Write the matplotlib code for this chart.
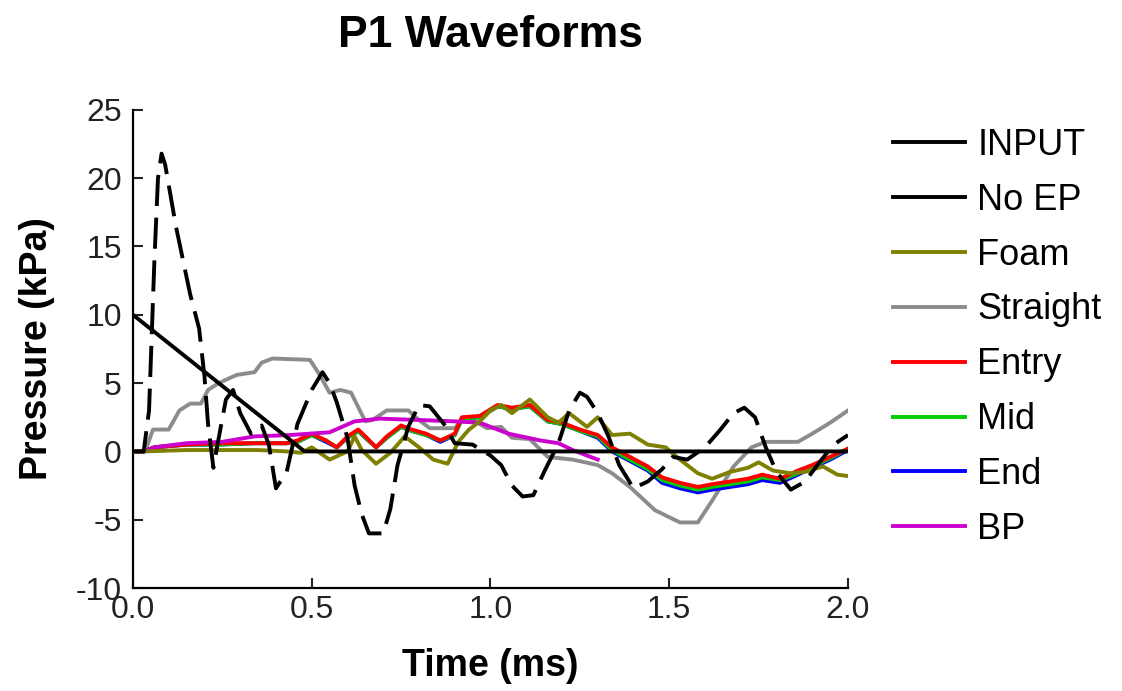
import matplotlib
matplotlib.use("Agg")
import matplotlib.pyplot as plt
from matplotlib.lines import Line2D

plt.rcParams['font.family'] = ['Liberation Sans', 'DejaVu Sans']
plt.rcParams['axes.unicode_minus'] = False

# INPUT: triangular pulse
t_input = [0.0, 0.48, 2.0]
p_input = [10.0, 0.0, 0.0]

# No EP (dashed black)
t_noep = [0.0, 0.03, 0.045, 0.06, 0.07, 0.08, 0.09, 0.10, 0.12, 0.14, 0.16, 0.185, 0.20, 0.21,
          0.225, 0.24, 0.26, 0.28, 0.30, 0.33, 0.36, 0.38, 0.40, 0.43, 0.46, 0.50, 0.53, 0.55,
          0.57, 0.60, 0.62, 0.64, 0.66, 0.70, 0.72, 0.74, 0.77, 0.80, 0.83, 0.87, 0.90, 0.95,
          1.00, 1.03, 1.06, 1.09, 1.12, 1.15, 1.19, 1.22, 1.25, 1.27, 1.30, 1.33, 1.36, 1.40,
          1.44, 1.48, 1.51, 1.55, 1.60, 1.64, 1.68, 1.71, 1.74, 1.77, 1.80, 1.84, 1.88, 1.92,
          1.96, 2.00]
p_noep = [0.0, 0.0, 3.0, 14.0, 20.0, 21.8, 21.0, 19.5, 16.5, 14.0, 11.5, 9.0, 5.5, 2.0,
          -1.2, 1.0, 3.8, 4.5, 2.8, 1.3, 1.9, 0.5, -2.7, -1.5, 2.0, 4.5, 5.8, 5.0,
          3.6, 1.0, -2.5, -4.6, -6.0, -6.0, -4.2, -1.0, 1.8, 3.4, 3.3, 2.0, 0.6, 0.5,
          -0.3, -1.0, -2.5, -3.3, -3.2, -1.5, 0.6, 3.0, 4.3, 4.0, 2.8, 1.1, -1.0, -2.7,
          -2.2, -1.3, -0.4, -0.6, 0.3, 1.5, 2.8, 3.2, 2.5, 0.3, -1.5, -2.8, -2.2, -0.8,
          0.5, 1.2]

# Foam (olive)
t_foam = [0.0, 0.03, 0.15, 0.24, 0.35, 0.43, 0.47, 0.50, 0.55, 0.60, 0.62, 0.64, 0.68, 0.72,
          0.76, 0.80, 0.84, 0.88, 0.91, 0.94, 0.97, 1.00, 1.03, 1.06, 1.11, 1.16, 1.19, 1.22,
          1.27, 1.30, 1.34, 1.39, 1.44, 1.49, 1.53, 1.58, 1.62, 1.67, 1.72, 1.75, 1.79, 1.84,
          1.88, 1.93, 1.97, 2.00]
p_foam = [0.0, 0.0, 0.1, 0.1, 0.1, 0.0, -0.1, 0.3, -0.6, 0.0, 1.1, 0.1, -0.9, -0.1,
          1.1, 0.3, -0.6, -0.9, 0.7, 1.6, 2.2, 3.0, 3.4, 2.8, 3.8, 2.5, 2.1, 2.8,
          1.8, 2.5, 1.2, 1.3, 0.5, 0.3, -0.6, -1.6, -2.0, -1.5, -1.2, -0.8, -1.4, -1.6,
          -1.5, -1.1, -1.7, -1.8]

# Straight (gray)
t_straight = [0.0, 0.034, 0.056, 0.10, 0.13, 0.16, 0.19, 0.21, 0.24, 0.29, 0.34, 0.36, 0.39,
              0.495, 0.52, 0.55, 0.58, 0.61, 0.65, 0.67, 0.71, 0.77, 0.80, 0.83, 0.90, 0.92,
              0.95, 0.99, 1.03, 1.06, 1.11, 1.16, 1.23, 1.30, 1.34, 1.39, 1.46, 1.53, 1.58,
              1.62, 1.68, 1.73, 1.77, 1.86, 1.90, 1.95, 2.00]
p_straight = [0.0, 0.0, 1.6, 1.6, 3.0, 3.5, 3.5, 4.5, 5.0, 5.6, 5.8, 6.5, 6.8,
              6.7, 5.7, 4.3, 4.5, 4.3, 2.2, 2.3, 3.0, 3.0, 2.3, 1.7, 1.7, 2.3,
              2.3, 1.7, 1.8, 1.0, 0.9, -0.4, -0.6, -1.0, -1.6, -2.6, -4.3, -5.2, -5.2,
              -3.6, -1.1, 0.3, 0.7, 0.7, 1.3, 2.1, 3.0]

# Entry (red)
t_entry = [0.0, 0.03, 0.06, 0.15, 0.24, 0.34, 0.43, 0.46, 0.50, 0.54, 0.57, 0.60, 0.63, 0.65,
           0.68, 0.71, 0.75, 0.78, 0.82, 0.86, 0.90, 0.92, 0.97, 1.02, 1.06, 1.11, 1.16, 1.20,
           1.25, 1.30, 1.34, 1.39, 1.44, 1.48, 1.53, 1.58, 1.62, 1.67, 1.72, 1.76, 1.81, 1.86,
           1.90, 1.95, 2.00]
p_entry = [0.0, 0.0, 0.3, 0.5, 0.6, 0.6, 0.6, 0.8, 1.3, 0.8, 0.3, 1.1, 1.6, 1.1,
           0.3, 1.1, 1.9, 1.6, 1.3, 0.8, 1.3, 2.5, 2.6, 3.4, 3.2, 3.4, 2.3, 2.1,
           1.6, 1.2, 0.3, -0.4, -1.1, -1.9, -2.3, -2.6, -2.4, -2.2, -2.0, -1.7, -2.0, -1.4,
           -1.0, -0.4, 0.2]

# Mid (green)
t_mid = [0.0, 0.03, 0.06, 0.15, 0.24, 0.34, 0.43, 0.46, 0.50, 0.54, 0.57, 0.60, 0.63, 0.65,
         0.68, 0.71, 0.75, 0.78, 0.82, 0.86, 0.90, 0.92, 0.97, 1.02, 1.06, 1.11, 1.16, 1.20,
         1.25, 1.30, 1.34, 1.39, 1.44, 1.48, 1.53, 1.58, 1.62, 1.67, 1.72, 1.76, 1.81, 1.86,
         1.90, 1.95, 2.00]
p_mid = [0.0, 0.0, 0.3, 0.5, 0.5, 0.6, 0.6, 0.7, 1.2, 0.8, 0.3, 1.0, 1.5, 1.0,
         0.3, 1.0, 1.8, 1.5, 1.2, 0.8, 1.2, 2.4, 2.5, 3.3, 3.1, 3.3, 2.2, 2.0,
         1.5, 1.1, 0.1, -0.6, -1.3, -2.1, -2.5, -2.8, -2.6, -2.4, -2.2, -1.9, -2.1, -1.6,
         -1.1, -0.5, 0.2]

# End (blue)
t_end = [0.0, 0.03, 0.06, 0.15, 0.24, 0.34, 0.43, 0.46, 0.50, 0.54, 0.57, 0.60, 0.63, 0.65,
         0.68, 0.71, 0.75, 0.78, 0.82, 0.86, 0.90, 0.92, 0.97, 1.02, 1.06, 1.11, 1.16, 1.20,
         1.25, 1.30, 1.34, 1.39, 1.44, 1.48, 1.53, 1.58, 1.62, 1.67, 1.72, 1.76, 1.81, 1.86,
         1.90, 1.95, 2.00]
p_end = [0.0, 0.0, 0.3, 0.5, 0.5, 0.6, 0.6, 0.7, 1.2, 0.7, 0.3, 1.0, 1.5, 1.0,
         0.3, 1.0, 1.8, 1.5, 1.2, 0.7, 1.2, 2.4, 2.5, 3.3, 3.1, 3.3, 2.2, 2.0,
         1.5, 1.0, 0.0, -0.7, -1.4, -2.3, -2.7, -3.0, -2.8, -2.6, -2.4, -2.1, -2.3, -1.7,
         -1.2, -0.6, 0.1]

# BP (magenta), record stops near 1.3 ms
t_bp = [0.0, 0.03, 0.06, 0.15, 0.25, 0.34, 0.44, 0.55, 0.62, 0.69, 0.80, 0.90, 0.97, 1.05,
        1.14, 1.19, 1.23, 1.30]
p_bp = [0.0, 0.0, 0.3, 0.6, 0.7, 1.1, 1.2, 1.4, 2.2, 2.4, 2.3, 2.2, 2.1, 1.3,
        0.8, 0.6, 0.1, -0.6]

fig = plt.figure(figsize=(11.22, 6.91), dpi=100)
ax = fig.add_axes([0.1185, 0.149, 0.6373, 0.692])

lw = 2.8
ax.plot(t_straight, p_straight, color='#8c8c8c', lw=lw, zorder=2)
ax.plot(t_end, p_end, color='#0000ff', lw=lw, zorder=3)
ax.plot(t_mid, p_mid, color='#00cc00', lw=lw, zorder=4)
ax.plot(t_entry, p_entry, color='#ff0000', lw=lw, zorder=5)
ax.plot(t_bp, p_bp, color='#cc00cc', lw=lw, zorder=6)
ax.plot(t_foam, p_foam, color='#808000', lw=lw, zorder=7)
ax.plot(t_input, p_input, color='black', lw=lw, zorder=8)
ax.plot(t_noep, p_noep, color='black', lw=lw, dashes=(8, 3), zorder=9)

ax.set_xlim(0, 2.0)
ax.set_ylim(-10, 25)
ax.set_xticks([0.0, 0.5, 1.0, 1.5, 2.0])
ax.set_xticklabels(['0.0', '0.5', '1.0', '1.5', '2.0'])
ax.set_yticks(range(-10, 30, 5))
for s in ['top', 'right']:
    ax.spines[s].set_visible(False)
for s in ['left', 'bottom']:
    ax.spines[s].set_linewidth(1.6)
ax.tick_params(direction='in', length=7, width=1.5, labelsize=23, colors='#222222')
ax.tick_params(axis='x', pad=5)
ax.tick_params(axis='y', pad=8)

ax.set_xlabel('Time (ms)', fontsize=27, fontweight='bold')
ax.xaxis.set_label_coords(0.5, -0.126)
ax.set_ylabel('Pressure (kPa)', fontsize=27, fontweight='bold')
ax.yaxis.set_label_coords(-0.109, 0.5)
ax.set_title('P1 Waveforms', fontsize=32, fontweight='bold', pad=45)

names = ['INPUT', 'No EP', 'Foam', 'Straight', 'Entry', 'Mid', 'End', 'BP']
colors = ['black', 'black', '#808000', '#8c8c8c', '#ff0000', '#00cc00', '#0000ff', '#cc00cc']
handles = [Line2D([0], [0], color=c, lw=2.8) for c in colors]
fig.legend(handles, names, loc='upper left', bbox_to_anchor=(0.796, 0.815),
           frameon=False, fontsize=26, handlelength=2.0, handletextpad=0.33,
           labelspacing=0.55, borderpad=0, borderaxespad=0)

fig.savefig('out.png', dpi=100)
